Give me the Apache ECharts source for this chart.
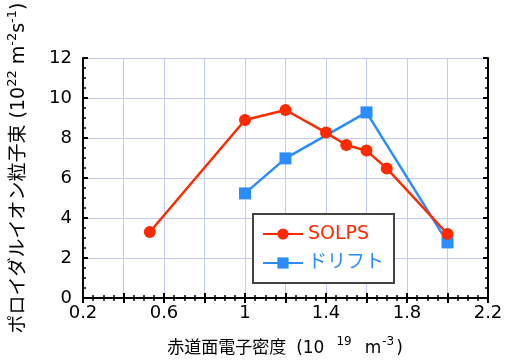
<!DOCTYPE html>
<html>
<head>
<meta charset="utf-8">
<script src="https://cdn.jsdelivr.net/npm/echarts@6/dist/echarts.min.js"></script>
<style>
  html, body { margin: 0; padding: 0; background: #fff; }
  #chart { width: 506px; height: 361px; }
</style>
</head>
<body>
<div id="chart"></div>
<script>
// Poloidal ion flux vs. equatorial electron density
const solpsDensity = [0.53, 1.0, 1.2, 1.4, 1.5, 1.6, 1.7, 2.0];
const solpsFlux    = [3.3, 8.9, 9.4, 8.27, 7.65, 7.37, 6.48, 3.2];
const driftDensity = [1.0, 1.2, 1.6, 2.0];
const driftFlux    = [5.23, 6.98, 9.28, 2.78];
const seriesNames  = ['SOLPS', 'ドリフト'];

const RED = '#ff2a00';
const BLUE = '#2b8cff';
const GRIDLINE = '#c3cbf4';
const FONT = '"DejaVu Sans", "Noto Sans CJK JP", sans-serif';

const pairs = (xs, ys) => xs.map((x, i) => [x, ys[i]]);

const chart = echarts.init(document.getElementById('chart'), null, { renderer: 'canvas' });

// shared frame styling: black border with inward major and minor ticks
const frameAxis = {
  axisLine: { show: true, lineStyle: { color: '#000', width: 2 } },
  axisTick: { show: true, inside: true, length: 5, lineStyle: { color: '#000', width: 2 } },
  minorTick: { show: true, splitNumber: 4, length: 3, lineStyle: { color: '#000', width: 1.5 } }
};

// label every second 0.2 step on the density axis
const densityLabel = v => {
  const step = Math.round((v - 0.2) / 0.2);
  return step % 2 === 0 ? String(+v.toFixed(1)) : '';
};

const supStyle = { fontSize: 12, fontFamily: FONT, verticalAlign: 'top', lineHeight: 12 };

chart.setOption({
  animation: false,
  grid: { left: 83, right: 18, top: 58, bottom: 63, containLabel: false },
  xAxis: [
    Object.assign({
      type: 'value', min: 0.2, max: 2.2, interval: 0.2, position: 'bottom',
      axisLabel: { margin: 6, color: '#000', fontSize: 18, fontFamily: FONT, formatter: densityLabel },
      splitLine: { show: true, lineStyle: { color: GRIDLINE, width: 1 } }
    }, frameAxis),
    Object.assign({
      type: 'value', min: 0.2, max: 2.2, interval: 0.2, position: 'top',
      axisLabel: { show: false }, splitLine: { show: false }
    }, frameAxis)
  ],
  yAxis: [
    Object.assign({
      type: 'value', min: 0, max: 12, interval: 2, position: 'left',
      axisLabel: { margin: 11, color: '#000', fontSize: 18, fontFamily: FONT },
      splitLine: { show: true, lineStyle: { color: GRIDLINE, width: 1 } }
    }, frameAxis),
    Object.assign({
      type: 'value', min: 0, max: 12, interval: 2, position: 'right',
      axisLabel: { show: false }, splitLine: { show: false }
    }, frameAxis)
  ],
  legend: {
    data: [
      { name: seriesNames[0], textStyle: { color: RED } },
      { name: seriesNames[1], textStyle: { color: BLUE } }
    ],
    orient: 'vertical', left: 253, top: 214,
    backgroundColor: '#fff', borderColor: '#444', borderWidth: 2, borderRadius: 0,
    padding: [10, 10, 10, 9], itemGap: 9, itemWidth: 40, itemHeight: 14,
    textStyle: { fontSize: 19, fontFamily: FONT, lineHeight: 20 }
  },
  series: [
    {
      name: seriesNames[1], type: 'line', data: pairs(driftDensity, driftFlux),
      symbol: 'rect', symbolSize: 12, color: BLUE,
      lineStyle: { width: 2.5, color: BLUE }, itemStyle: { color: BLUE }, z: 2
    },
    {
      name: seriesNames[0], type: 'line', data: pairs(solpsDensity, solpsFlux),
      symbol: 'circle', symbolSize: 12, color: RED,
      lineStyle: { width: 2.5, color: RED }, itemStyle: { color: RED }, z: 3
    }
  ],
  graphic: [
    {
      type: 'text', x: 285, y: 349, z: 10,
      style: {
        text: '赤道面電子密度{o|(10}{a|19}m{b|-3})',
        fontSize: 17, fontFamily: FONT, fill: '#000', lineHeight: 26,
        align: 'center', verticalAlign: 'middle',
        rich: {
          o: { fontSize: 17, fontFamily: FONT, padding: [0, 0, 0, 10] },
          a: Object.assign({}, supStyle, { padding: [0, 13, 0, 12] }),
          b: Object.assign({}, supStyle, { padding: [0, 2, 0, 1] })
        }
      }
    },
    {
      type: 'text', x: 19, y: 168, rotation: Math.PI / 2, z: 10,
      style: {
        text: 'ポロイダルイオン粒子束 (10{s|22} m{s|-2}s{s|-1})',
        fontSize: 19, fontFamily: FONT, fill: '#000', lineHeight: 26,
        align: 'center', verticalAlign: 'middle',
        rich: { s: Object.assign({}, supStyle, { fontSize: 13, lineHeight: 13 }) }
      }
    }
  ]
});
</script>
</body>
</html>
